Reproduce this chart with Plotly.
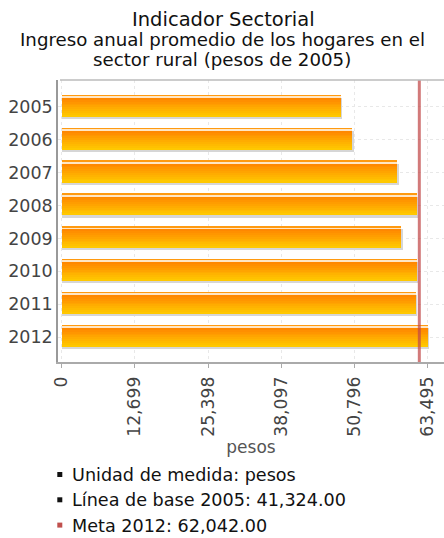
import plotly.graph_objects as go

# ---------------- data ----------------
YEARS = ['2005', '2006', '2007', '2008', '2009', '2010', '2011', '2012']
VALUES = [48400, 50360, 58170, 61590, 58910, 61590, 61410, 63495]
TICK_VALUES = [0, 12699, 25398, 38097, 50796, 63495]
TICK_LABELS = ['0', '12,699', '25,398', '38,097', '50,796', '63,495']
META_2012 = 62042
TITLE = 'Indicador Sectorial'
SUBTITLE = ['Ingreso anual promedio de los hogares en el',
            'sector rural (pesos de 2005)']
AXIS_TITLE = 'pesos'
NOTES = ['Unidad de medida: pesos',
         'Línea de base 2005: 41,324.00',
         'Meta 2012: 62,042.00']
NOTE_COLORS = ['#111111', '#111111', '#C0504D']

# ---------------- layout geometry ----------------
W, H = 444, 538
ML, MR, MT, MB = 58, 0, 80, 176
PW, PH = W - ML - MR, H - MT - MB
Y_RANGE = [7.76, -0.82]           # reversed category axis
X_RANGE = [-642, 66323]
UNIT_PX = PH / (Y_RANGE[0] - Y_RANGE[1])
DATA_PER_PX = (X_RANGE[1] - X_RANGE[0]) / PW
FONT = 'DejaVu Sans'


def px_x(p):
    return (p - ML) / PW


def px_y(p):
    return 1 - (p - MT) / PH


def hex_to_rgb(h):
    h = h.lstrip('#')
    return tuple(int(h[i:i + 2], 16) for i in (0, 2, 4))


def mix(c1, c2, t):
    a, b = hex_to_rgb(c1), hex_to_rgb(c2)
    return 'rgb(%d,%d,%d)' % tuple(round(a[i] + (b[i] - a[i]) * t) for i in range(3))


fig = go.Figure()


def band(top, bottom, color, xs):
    fig.add_trace(go.Bar(
        y=YEARS, x=xs, orientation='h',
        offset=top / UNIT_PX, width=(bottom - top) / UNIT_PX,
        marker=dict(color=color, line=dict(width=0)),
        showlegend=False, hoverinfo='skip'))


# shadow (slightly right and below)
shadow_dx = 1.6 * DATA_PER_PX
band(-9.0, 12.0, '#d6d6d6', [v + shadow_dx for v in VALUES])
# top edge line and highlight
band(-11.7, -10.4, '#FF9A10', VALUES)
band(-10.4, -9.0, '#FFE6C4', VALUES)
# vertical gradient
N = 10
g_top, g_bot = -9.0, 9.6
step = (g_bot - g_top) / N
for i in range(N):
    t = i / (N - 1)
    band(g_top + i * step, g_top + (i + 1) * step + 0.3,
         mix('#FF8800', '#FFC800', t), VALUES)

fig.update_layout(
    width=W, height=H,
    margin=dict(l=ML, r=MR, t=MT, b=MB, pad=0),
    paper_bgcolor='white', plot_bgcolor='white',
    barmode='overlay', bargap=0,
    font=dict(family=FONT, color='#444'),
    showlegend=False,
    xaxis=dict(
        range=X_RANGE, tickvals=TICK_VALUES, ticktext=TICK_LABELS,
        tickangle=-90, tickfont=dict(size=17.2, color='#444'),
        showgrid=True, gridcolor='#e8e8e8', griddash='3px,3px', gridwidth=1,
        showline=True, linecolor='#aaaaaa', linewidth=1.5,
        ticks='outside', ticklen=4, tickcolor='#aaaaaa',
        zeroline=False, ticklabelstandoff=2,
        title=dict(text=AXIS_TITLE, font=dict(size=17, color='#555'), standoff=3),
    ),
    yaxis=dict(
        type='category', categoryorder='array', categoryarray=YEARS,
        range=Y_RANGE, tickfont=dict(size=17.5, color='#444'),
        showgrid=True, gridcolor='#e8e8e8', griddash='3px,3px', gridwidth=1,
        showline=True, linecolor='#999999', linewidth=1.5,
        ticks='', zeroline=False, ticklabelstandoff=0,
    ),
)

shapes = [
    dict(type='line', xref='x', yref='paper', x0=META_2012, x1=META_2012,
         y0=0, y1=1, line=dict(color='rgba(192,70,70,0.72)', width=3), layer='above'),
    dict(type='line', xref='paper', yref='paper', x0=px_x(60), x1=1,
         y0=1, y1=1, line=dict(color='#bbbbbb', width=1.5), layer='above'),
]

annotations = [
    dict(text=TITLE, x=px_x(223), y=px_y(20), xref='paper', yref='paper',
         xanchor='center', yanchor='middle', showarrow=False,
         font=dict(size=19.5, color='#111')),
]
for i, line in enumerate(SUBTITLE):
    annotations.append(dict(text=line, x=px_x(222), y=px_y(39.5 + i * 20.5),
                            xref='paper', yref='paper', xanchor='center',
                            yanchor='middle', showarrow=False,
                            font=dict(size=18.2, color='#111')))

for i, (note, col) in enumerate(zip(NOTES, NOTE_COLORS)):
    cy = 475 + i * 25.3
    shapes.append(dict(type='rect', xref='paper', yref='paper',
                       x0=px_x(57.3), x1=px_x(62.3), y0=px_y(cy - 3), y1=px_y(cy + 2),
                       fillcolor=col, line=dict(width=0)))
    annotations.append(dict(text=note, x=px_x(70), y=px_y(cy), xref='paper', yref='paper',
                            xanchor='left', yanchor='middle', showarrow=False,
                            font=dict(size=17.6, color='#111')))

fig.update_layout(shapes=shapes, annotations=annotations)
fig.write_html('out.html')
